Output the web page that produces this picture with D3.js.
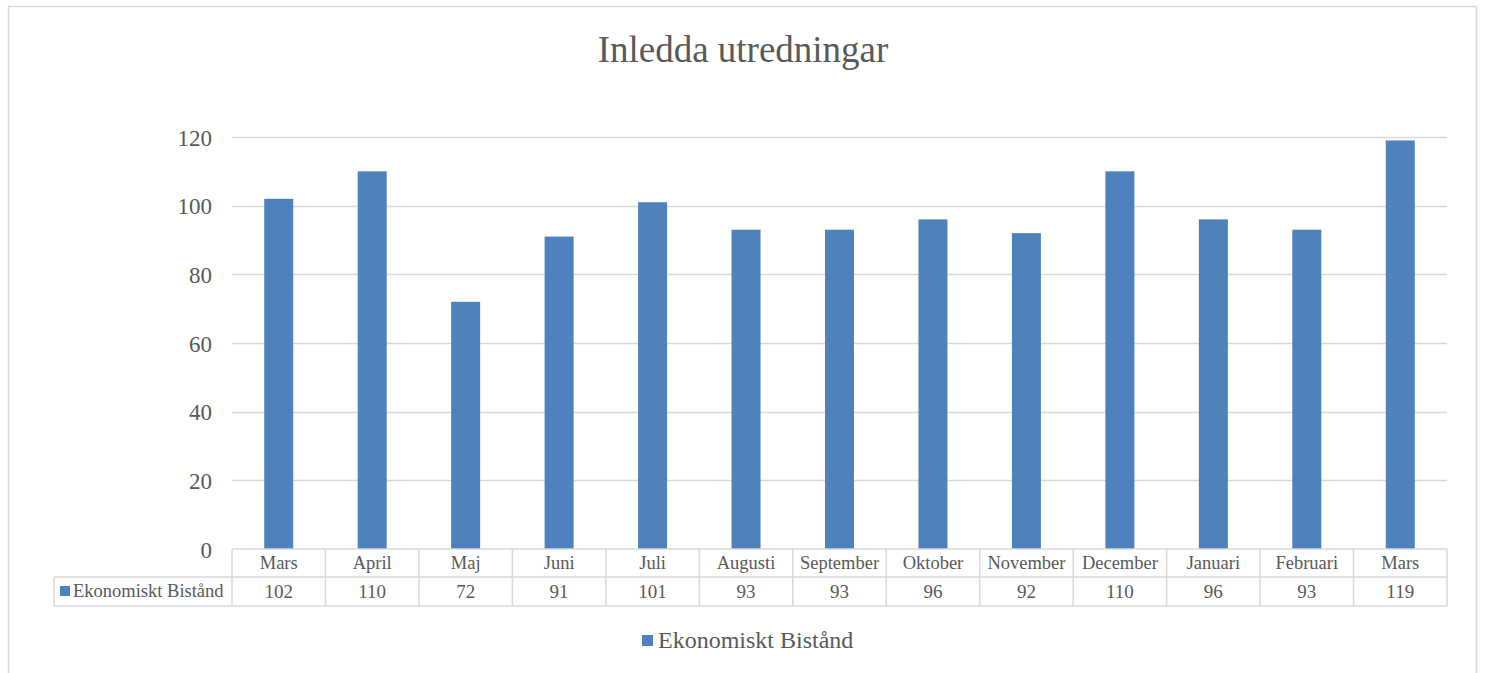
<!DOCTYPE html>
<html>
<head>
<meta charset="utf-8">
<script src="https://cdn.jsdelivr.net/npm/d3@7"></script>
<style>
    body { margin: 0; background: #fff; }
    svg { display: block; font-family: "Liberation Serif", "Times New Roman", serif; }
</style>
</head>
<body>
<div class="chart"></div>
<script>
// data
var months = ['Mars', 'April', 'Maj', 'Juni', 'Juli', 'Augusti', 'September', 'Oktober', 'November', 'December', 'Januari', 'Februari', 'Mars'];
var values = [102, 110, 72, 91, 101, 93, 93, 96, 92, 110, 96, 93, 119];
var yTicks = [0, 20, 40, 60, 80, 100, 120];
var seriesName = 'Ekonomiskt Bistånd';
var title = 'Inledda utredningar';

var width = 1485, height = 673;
var grey = '#595959', line = '#d9d9d9', blue = '#4f81bd';

var svg = d3.select('.chart').append('svg')
    .attr('width', width)
    .attr('height', height);

// outer chart border (bottom edge falls outside the window)
svg.append('rect')
    .attr('x', 8.5).attr('y', 6.5)
    .attr('width', 1468).attr('height', 700)
    .attr('fill', 'none').attr('stroke', line).attr('stroke-width', 1.5);

svg.append('text')
    .attr('x', 743).attr('y', 62)
    .attr('text-anchor', 'middle')
    .attr('font-size', 37).attr('fill', grey)
    .text(title);

var plotLeft = 232, plotRight = 1447;
var x = d3.scaleBand()
    .domain(d3.range(months.length))
    .range([plotLeft, plotRight])
    .paddingInner(0).paddingOuter(0);

var y = d3.scaleLinear()
    .domain([0, 120])
    .range([549, 137]);

// gridlines
svg.selectAll('.grid')
    .data(yTicks.filter(function(d) { return d > 0; }))
    .enter().append('line')
    .attr('class', 'grid')
    .attr('x1', plotLeft).attr('x2', plotRight)
    .attr('y1', function(d) { return Math.round(y(d)) + 0.5; })
    .attr('y2', function(d) { return Math.round(y(d)) + 0.5; })
    .attr('stroke', line).attr('stroke-width', 1.5);

// y axis labels
var yAxis = d3.axisLeft(y).tickValues(yTicks).tickSize(0).tickPadding(0);
var gy = svg.append('g')
    .attr('transform', 'translate(212,0)')
    .call(yAxis);
gy.select('.domain').remove();
gy.selectAll('text')
    .attr('font-family', '"Liberation Serif", "Times New Roman", serif')
    .attr('font-size', 23).attr('fill', grey)
    .attr('dy', '0.35em');

// bars
var barW = 29;
svg.selectAll('.bar')
    .data(values)
    .enter().append('rect')
    .attr('class', 'bar')
    .attr('x', function(d, i) { return x(i) + x.bandwidth() / 2 - barW / 2; })
    .attr('y', function(d) { return y(d); })
    .attr('width', barW)
    .attr('height', function(d) { return y(0) - y(d); })
    .attr('fill', blue);

// data table
var row1Top = 549, row2Top = 577, row2Bottom = 606, legLeft = 54;
var table = svg.append('g')
    .attr('fill', 'none').attr('stroke', line).attr('stroke-width', 1.5);

table.append('line').attr('x1', plotLeft).attr('x2', plotRight).attr('y1', row1Top).attr('y2', row1Top);
table.append('line').attr('x1', legLeft).attr('x2', plotRight).attr('y1', row2Top).attr('y2', row2Top);
table.append('line').attr('x1', legLeft).attr('x2', plotRight).attr('y1', row2Bottom).attr('y2', row2Bottom);
table.append('line').attr('x1', legLeft).attr('x2', legLeft).attr('y1', row2Top).attr('y2', row2Bottom);

table.selectAll('.vline')
    .data(d3.range(months.length + 1))
    .enter().append('line')
    .attr('class', 'vline')
    .attr('x1', function(i) { return i < months.length ? x(i) : plotRight; })
    .attr('x2', function(i) { return i < months.length ? x(i) : plotRight; })
    .attr('y1', row1Top).attr('y2', row2Bottom);

svg.selectAll('.month')
    .data(months)
    .enter().append('text')
    .attr('class', 'month')
    .attr('x', function(d, i) { return x(i) + x.bandwidth() / 2; })
    .attr('y', 569)
    .attr('text-anchor', 'middle')
    .attr('font-size', 18.5).attr('fill', grey)
    .text(function(d) { return d; });

svg.selectAll('.val')
    .data(values)
    .enter().append('text')
    .attr('class', 'val')
    .attr('x', function(d, i) { return x(i) + x.bandwidth() / 2; })
    .attr('y', 598)
    .attr('text-anchor', 'middle')
    .attr('font-size', 19).attr('fill', grey)
    .text(function(d) { return d; });

svg.append('rect')
    .attr('x', 60).attr('y', 586).attr('width', 10).attr('height', 10)
    .attr('fill', blue);
svg.append('text')
    .attr('x', 73).attr('y', 597)
    .attr('font-size', 18.5).attr('fill', grey)
    .text(seriesName);

// legend
svg.append('rect')
    .attr('x', 642).attr('y', 635).attr('width', 11).attr('height', 11)
    .attr('fill', blue);
svg.append('text')
    .attr('x', 658).attr('y', 648)
    .attr('font-size', 24).attr('fill', grey)
    .text(seriesName);
</script>
</body>
</html>
